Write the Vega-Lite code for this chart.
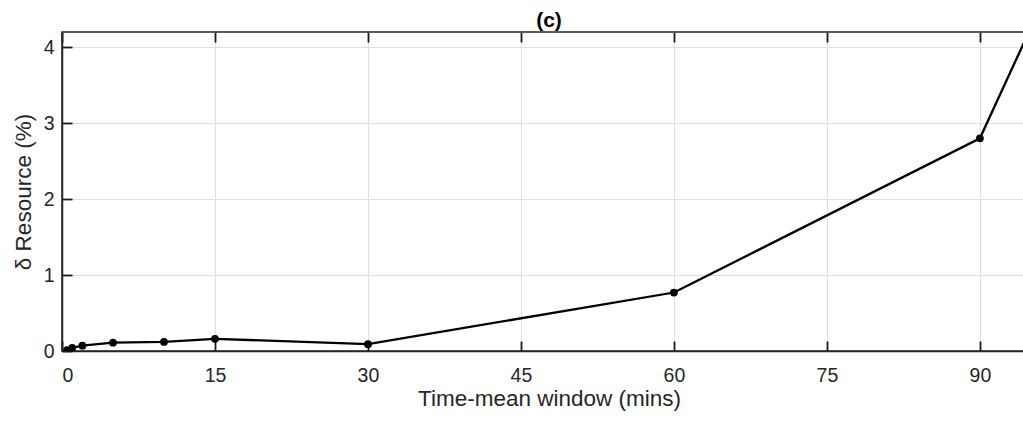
{
  "$schema": "https://vega.github.io/schema/vega-lite/v6.json",
  "width": 974,
  "height": 319,
  "autosize": "none",
  "padding": {"left": 62, "top": 32, "right": 0, "bottom": 71},
  "background": "white",
  "config": {
    "view": {"stroke": "#262626", "strokeWidth": 1.5},
    "font": "Liberation Sans",
    "axis": {
      "domainColor": "#262626",
      "domainWidth": 1.5,
      "tickColor": "#1a1a1a",
      "tickWidth": 1.8,
      "tickSize": -10,
      "gridColor": "#dedede",
      "gridWidth": 1,
      "labelColor": "#262626",
      "labelFont": "Liberation Sans",
      "labelFontSize": 19.5,
      "titleFont": "Liberation Sans",
      "titleFontSize": 22.5,
      "titleFontWeight": "normal",
      "titleColor": "#262626"
    }
  },
  "title": {
    "text": "(c)",
    "font": "Liberation Sans",
    "fontSize": 21,
    "fontWeight": "bold",
    "color": "#000000",
    "anchor": "middle",
    "offset": 0
  },
  "data": {
    "values": [
      {"t": 0.5, "d": 0.01},
      {"t": 1, "d": 0.04},
      {"t": 2, "d": 0.07},
      {"t": 5, "d": 0.11},
      {"t": 10, "d": 0.12},
      {"t": 15, "d": 0.16},
      {"t": 30, "d": 0.09},
      {"t": 60, "d": 0.77},
      {"t": 90, "d": 2.8},
      {"t": 96, "d": 4.55}
    ]
  },
  "layer": [
    {
      "mark": {
        "type": "line",
        "color": "black",
        "strokeWidth": 2.3,
        "clip": true,
        "point": {"filled": true, "size": 60, "color": "black", "opacity": 1}
      },
      "encoding": {
        "x": {
          "field": "t",
          "type": "quantitative",
          "scale": {"domain": [0, 95.5], "nice": false, "zero": false},
          "axis": {
            "orient": "bottom",
            "values": [0, 15, 30, 45, 60, 75, 90],
            "grid": true,
            "labelPadding": 25,
            "title": "Time-mean window (mins)",
            "titlePadding": 3
          }
        },
        "y": {
          "field": "d",
          "type": "quantitative",
          "scale": {"domain": [0, 4.2], "nice": false},
          "axis": {
            "orient": "left",
            "values": [0, 1, 2, 3, 4],
            "grid": true,
            "labelPadding": 18,
            "title": "δ Resource (%)",
            "titlePadding": 8
          }
        }
      }
    },
    {
      "mark": {"type": "point", "opacity": 0, "clip": true},
      "encoding": {
        "x": {
          "field": "t",
          "type": "quantitative",
          "scale": {"domain": [0, 95.5], "nice": false, "zero": false},
          "axis": {
            "orient": "top",
            "values": [0, 15, 30, 45, 60, 75, 90],
            "labels": false,
            "domain": false,
            "grid": false,
            "title": null
          }
        },
        "y": {
          "field": "d",
          "type": "quantitative",
          "scale": {"domain": [0, 4.2], "nice": false},
          "axis": {
            "orient": "right",
            "values": [0, 1, 2, 3, 4],
            "labels": false,
            "domain": false,
            "grid": false,
            "title": null
          }
        }
      }
    }
  ],
  "resolve": {"axis": {"x": "independent", "y": "independent"}}
}
